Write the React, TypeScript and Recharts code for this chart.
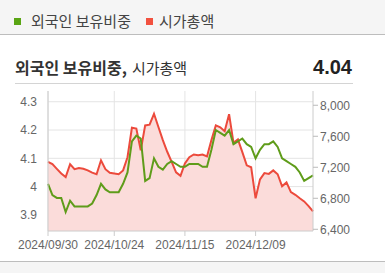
import {
  Area,
  CartesianGrid,
  ComposedChart,
  Line,
  XAxis,
  YAxis,
} from 'recharts';

// 거래일 (2024/09/30 ~ 2024/12/27)
const dates = [
  '2024/09/30',
  '2024/10/02', '2024/10/04', '2024/10/07', '2024/10/08', '2024/10/10', '2024/10/11',
  '2024/10/14', '2024/10/15', '2024/10/16', '2024/10/17', '2024/10/18', '2024/10/21',
  '2024/10/22', '2024/10/23', '2024/10/24', '2024/10/25', '2024/10/28', '2024/10/29',
  '2024/10/30', '2024/10/31',
  '2024/11/01', '2024/11/04', '2024/11/05', '2024/11/06', '2024/11/07', '2024/11/08',
  '2024/11/11', '2024/11/12', '2024/11/13', '2024/11/14', '2024/11/15', '2024/11/18',
  '2024/11/19', '2024/11/20', '2024/11/21', '2024/11/22', '2024/11/25', '2024/11/26',
  '2024/11/27', '2024/11/28', '2024/11/29',
  '2024/12/02', '2024/12/03', '2024/12/04', '2024/12/05', '2024/12/06', '2024/12/09',
  '2024/12/10', '2024/12/11', '2024/12/12', '2024/12/13', '2024/12/16', '2024/12/17',
  '2024/12/18', '2024/12/19', '2024/12/20', '2024/12/23', '2024/12/24', '2024/12/26',
  '2024/12/27',
];

// 외국인 보유비중 (%)
const foreignRatio = [
  4.01, 3.97, 3.96, 3.96, 3.91, 3.95, 3.93, 3.93, 3.93, 3.93,
  3.94, 3.97, 4.01, 3.99, 3.98, 3.98, 3.98, 4.01, 4.05, 4.16,
  4.18, 4.17, 4.02, 4.03, 4.1, 4.07, 4.06, 4.08, 4.09, 4.08,
  4.07, 4.07, 4.08, 4.08, 4.08, 4.07, 4.07, 4.13, 4.2, 4.19,
  4.18, 4.2, 4.15, 4.16, 4.17, 4.15, 4.14, 4.1, 4.13, 4.15,
  4.15, 4.16, 4.14, 4.1, 4.09, 4.08, 4.07, 4.05, 4.02, 4.03, 4.04,
];

// 시가총액
const marketCap = [
  7270, 7240, 7180, 7120, 7075, 7240, 7175, 7190, 7180, 7160,
  7130, 7110, 7290, 7175, 7130, 7120, 7110, 7160, 7330, 7710,
  7700, 7420, 7740, 7750, 7890, 7720, 7550, 7400, 7270, 7135,
  7090, 7250, 7330, 7365, 7355, 7365, 7340, 7550, 7740, 7715,
  7665, 7885, 7515, 7560, 7395, 7225, 7200, 6800, 7045, 7125,
  7115, 7160, 7110, 6955, 7005, 6880, 6845, 6800, 6760, 6700, 6630,
];

const dateTicks = ['2024/09/30', '2024/10/24', '2024/11/15', '2024/12/09'];
const ratioTicks = [3.9, 4, 4.1, 4.2, 4.3];
const capTicks = [6400, 6800, 7200, 7600, 8000];

const data = dates.map((date, i) => ({
  date,
  ratio: foreignRatio[i],
  cap: marketCap[i],
}));

const GREEN = '#5f9c1a';
const RED = '#ec4a3c';
const AXIS_FONT = '"Liberation Sans", Arial, sans-serif';
const KR_FONT = '"Noto Sans CJK KR", sans-serif';

const tickStyle = { fontSize: 12, fill: '#666', fontFamily: AXIS_FONT };

export default function App() {
  return (
    <div
      style={{
        position: 'absolute',
        left: 0,
        top: 0,
        width: 385,
        height: 273,
        background: '#fff',
        fontFamily: KR_FONT,
        overflow: 'hidden',
      }}
    >
      {/* 상단 범례 */}
      <div
        style={{
          position: 'absolute',
          left: 0,
          top: 0,
          width: 385,
          height: 34,
          background: '#f5f5f5',
          borderBottom: '1px solid #bdbdbd',
        }}
      >
        <span style={{ position: 'absolute', left: 14, top: 18, width: 7, height: 7, background: '#5aa514' }} />
        <span style={{ position: 'absolute', left: 31, top: 10, fontSize: 15, lineHeight: '22px', color: '#444' }}>
          외국인 보유비중
        </span>
        <span style={{ position: 'absolute', left: 146, top: 18, width: 7, height: 7, background: '#f2513f' }} />
        <span style={{ position: 'absolute', left: 159, top: 10, fontSize: 15, lineHeight: '22px', color: '#444' }}>
          시가총액
        </span>
      </div>

      {/* 제목 */}
      <div style={{ position: 'absolute', left: 15, top: 56, fontSize: 15, lineHeight: '22px', color: '#333' }}>
        <span style={{ fontWeight: 700, fontSize: 16 }}>외국인 보유비중,</span>
        <span style={{ marginLeft: 5 }}>시가총액</span>
      </div>
      <div
        style={{
          position: 'absolute',
          right: 33,
          top: 54,
          fontSize: 20,
          lineHeight: '26px',
          fontWeight: 700,
          color: '#222',
          fontFamily: '"Liberation Sans", Arial, sans-serif',
        }}
      >
        4.04
      </div>
      <div style={{ position: 'absolute', left: 15, top: 83, width: 338, height: 1, background: '#d4d4d4' }} />

      {/* 차트 */}
      <div style={{ position: 'absolute', left: 0, top: 80 }}>
        <ComposedChart
          width={385}
          height={180}
          data={data}
          margin={{ top: 11, right: 10, left: 8, bottom: 4 }}
        >
          <CartesianGrid
            yAxisId="left"
            stroke="#e4e4e4"
            verticalValues={dateTicks}
            horizontalValues={ratioTicks}
          />
          <XAxis
            dataKey="date"
            ticks={dateTicks}
            interval={0}
            tick={tickStyle}
            tickLine={{ stroke: '#ccc' }}
            tickSize={5}
            tickMargin={4}
            axisLine={{ stroke: '#ccc' }}
            height={25}
          />
          <XAxis
            xAxisId="top"
            orientation="top"
            dataKey="date"
            tick={false}
            tickLine={false}
            axisLine={{ stroke: '#ddd' }}
            height={0}
          />
          <YAxis
            yAxisId="left"
            domain={[3.843, 4.338]}
            ticks={ratioTicks}
            allowDataOverflow
            tick={tickStyle}
            tickLine={false}
            tickMargin={5}
            axisLine={{ stroke: '#ccc' }}
            width={40}
          />
          <YAxis
            yAxisId="right"
            orientation="right"
            domain={[6378, 8184]}
            ticks={capTicks}
            allowDataOverflow
            tickFormatter={(v: number) => v.toLocaleString('en-US')}
            tick={tickStyle}
            tickLine={{ stroke: '#bbb' }}
            tickSize={5}
            tickMargin={2}
            axisLine={{ stroke: '#ccc' }}
            width={62}
          />
          <Area
            yAxisId="right"
            type="linear"
            dataKey="cap"
            stroke={RED}
            strokeWidth={2}
            fill="#fbdcda"
            fillOpacity={1}
            dot={false}
            activeDot={false}
            isAnimationActive={false}
          />
          <Line
            yAxisId="left"
            type="linear"
            dataKey="ratio"
            stroke={GREEN}
            strokeWidth={2}
            dot={false}
            activeDot={false}
            isAnimationActive={false}
          />
        </ComposedChart>
      </div>

      {/* 하단 */}
      <div
        style={{
          position: 'absolute',
          left: 0,
          top: 261,
          width: 385,
          height: 12,
          background: '#f5f5f5',
          borderTop: '1px solid #bdbdbd',
        }}
      />
    </div>
  );
}
